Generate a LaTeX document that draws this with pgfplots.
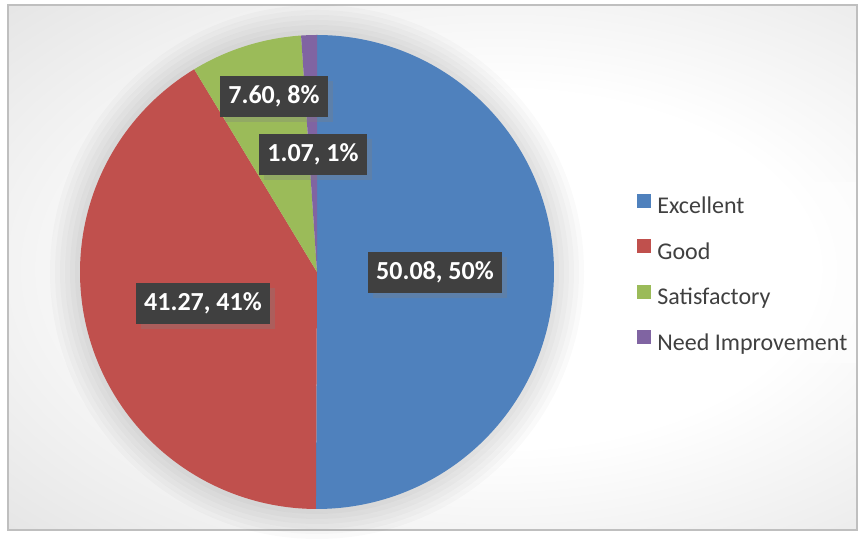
\documentclass[border=0pt]{standalone}
\usepackage{pgfplots}
\pgfplotsset{compat=1.18}
\usepackage{fontspec}
\setmainfont{Carlito}
\usetikzlibrary{shadows}
\definecolor{cA}{HTML}{4F81BD}
\definecolor{cB}{HTML}{C0504D}
\definecolor{cC}{HTML}{9BBB59}
\definecolor{cD}{HTML}{8064A2}
\definecolor{lbl}{HTML}{404040}
\definecolor{legtxt}{HTML}{404040}
\definecolor{bgmid}{HTML}{D3D3D3}
\definecolor{bgout}{HTML}{C2C2C2}
\definecolor{frame}{HTML}{BFBFBF}
\pgfdeclareradialshading{bgshade}{\pgfpoint{0bp}{0bp}}{color(0bp)=(white); color(16bp)=(white); color(48bp)=(bgmid); color(71bp)=(bgout)}
% data (percent values)
\def\vA{50.08}\def\vB{41.27}\def\vC{7.60}\def\vD{1.07}
\begin{document}
\begin{tikzpicture}
\pgfmathsetmacro{\tot}{\vA+\vB+\vC+\vD}
\pgfmathsetmacro{\eA}{90}
\pgfmathsetmacro{\sA}{\eA-\vA/\tot*360}
\pgfmathsetmacro{\eB}{\sA}
\pgfmathsetmacro{\sB}{\eB-\vB/\tot*360}
\pgfmathsetmacro{\eC}{\sB}
\pgfmathsetmacro{\sC}{\eC-\vC/\tot*360}
\pgfmathsetmacro{\eD}{\sC}
\pgfmathsetmacro{\sD}{\eD-\vD/\tot*360}
\begin{axis}[
  width=431.5pt, height=268.5pt, scale only axis,
  xmin=0, xmax=863, ymin=0, ymax=537,
  hide axis, clip=false,
  legend image code/.code={\fill[#1,draw=none] (0pt,0pt) rectangle (7pt,7pt);},
  legend cell align=left,
  legend style={at={(axis cs:637,343.5)}, anchor=north west, draw=none, fill=none,
    inner sep=0pt, row sep=10.25pt, column sep=3pt,
    font=\fontsize{12}{14}\selectfont, text=legtxt,
    nodes={inner sep=0pt, text height=8.5pt, text depth=2.5pt}},
]
% background
\fill[white] (axis cs:0,0) rectangle (axis cs:863,537);
\begin{scope}
\clip (axis cs:8,7) rectangle (axis cs:857,532);
\shade[shading=bgshade] (axis cs:8,-10) rectangle (axis cs:992,546);
\end{scope}
\draw[frame, line width=0.6pt] (axis cs:8,7) rectangle (axis cs:857,532);
% legend background
\fill[white, opacity=0.45] (axis cs:624,174) rectangle (axis cs:856,355);
% soft halo around pie
\fill[black, opacity=0.018] (axis cs:317,265) circle[radius=267];
\fill[black, opacity=0.018] (axis cs:317,265) circle[radius=262];
\fill[black, opacity=0.018] (axis cs:317,265) circle[radius=257];
\fill[black, opacity=0.018] (axis cs:317,265) circle[radius=252];
\fill[black, opacity=0.018] (axis cs:317,265) circle[radius=247];
\fill[black, opacity=0.018] (axis cs:317,265) circle[radius=242];
% pie slices
\addplot[fill=cA, draw=none, domain=\sA:\eA, samples=150, variable=\t]
  ({317+237*cos(\t)},{265+237*sin(\t)}) -- (axis cs:317,265) -- cycle;
\addlegendentry{Excellent}
\addplot[fill=cB, draw=none, domain=\sB:\eB, samples=150, variable=\t]
  ({317+237*cos(\t)},{265+237*sin(\t)}) -- (axis cs:317,265) -- cycle;
\addlegendentry{Good}
\addplot[fill=cC, draw=none, domain=\sC:\eC, samples=40, variable=\t]
  ({317+237*cos(\t)},{265+237*sin(\t)}) -- (axis cs:317,265) -- cycle;
\addlegendentry{Satisfactory}
\addplot[fill=cD, draw=none, domain=\sD:\eD, samples=10, variable=\t]
  ({317+237*cos(\t)},{265+237*sin(\t)}) -- (axis cs:317,265) -- cycle;
\addlegendentry{Need Improvement}
% data labels
\tikzset{dl/.style={fill=lbl, text=white, font=\fontsize{13}{15}\bfseries\selectfont,
  inner xsep=4pt, minimum height=20.5pt, text height=9.2pt, text depth=2.2pt,
  drop shadow={shadow xshift=2.5pt, shadow yshift=-2.5pt, opacity=0.3}}}
\node[dl] at (axis cs:435,264.5) {50.08, 50\%};
\node[dl] at (axis cs:203,233.5) {41.27, 41\%};
\node[dl] at (axis cs:274,440.5) {7.60, 8\%};
\node[dl] at (axis cs:313,382.5) {1.07, 1\%};
\end{axis}
\end{tikzpicture}
\end{document}
